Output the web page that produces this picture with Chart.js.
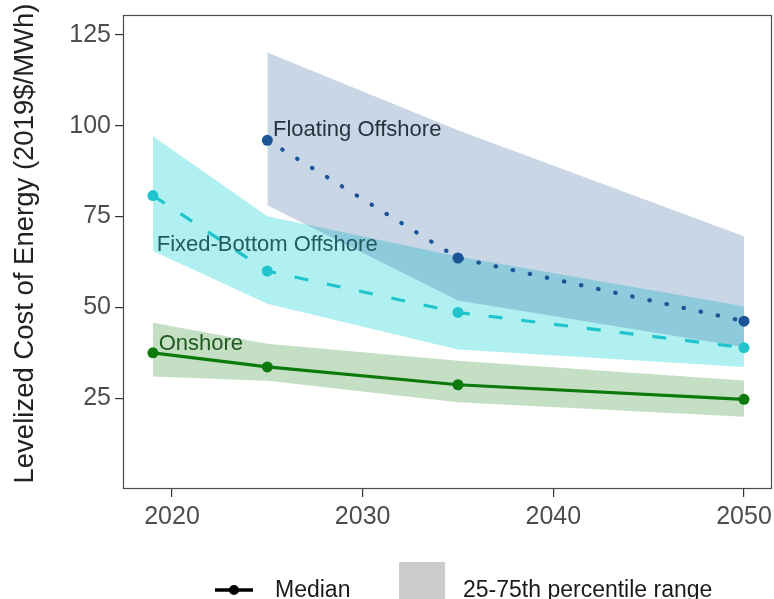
<!DOCTYPE html>
<html>
<head>
<meta charset="utf-8">
<script src="https://cdn.jsdelivr.net/npm/chart.js@4"></script>
<style>
  html, body { margin: 0; padding: 0; background: #ffffff; overflow: hidden; }
  #wrap { width: 774px; height: 599px; position: relative; }
</style>
</head>
<body>
<div id="wrap"><canvas id="c"></canvas></div>
<script>
// ---- data ----
const xTicks = [2020, 2030, 2040, 2050];
const yTicks = [25, 50, 75, 100, 125];

const onshoreYears  = [2019, 2025, 2035, 2050];
const onshoreMedian = [37.5, 33.6, 28.7, 24.7];
const onshoreP25    = [31.0, 29.8, 23.9, 19.9];
const onshoreP75    = [45.8, 40.0, 35.3, 29.9];

const fixedYears  = [2019, 2025, 2035, 2050];
const fixedMedian = [80.8, 60.0, 48.6, 38.9];
const fixedP25    = [65.5, 51.0, 38.4, 33.6];
const fixedP75    = [97.1, 75.1, 64.0, 50.3];

const floatYears  = [2025, 2035, 2050];
const floatMedian = [96.0, 63.6, 46.2];
const floatP25    = [78.1, 51.9, 39.0];
const floatP75    = [120.2, 98.8, 69.6];

const seriesNames = ['Onshore', 'Fixed-Bottom Offshore', 'Floating Offshore'];
const legendLabels = ['Median', '25-75th percentile range'];
const yTitle = 'Levelized Cost of Energy (2019$/MWh)';

// ---- styling ----
const FONT = '"Liberation Sans", Arial, Helvetica, sans-serif';
const C_ON = '#0b7a0b', C_FIX = '#1fc4cc', C_FLT = '#1c5597';
const B_ON = 'rgba(11,122,11,0.24)', B_FIX = 'rgba(0,206,209,0.31)', B_FLT = 'rgba(28,85,151,0.24)';

function pts(xs, ys) { return xs.map((x, i) => ({ x: x, y: ys[i] })); }

const medianStyle = (color, dash, width, cap) => ({
  borderColor: color, backgroundColor: color, borderWidth: width,
  borderDash: dash, borderCapStyle: cap, pointRadius: 5.5, pointHoverRadius: 5.5,
  pointBackgroundColor: color, pointBorderWidth: 0, fill: false, tension: 0
});
const bandStyle = (fill, bg) => ({
  borderColor: 'transparent', borderWidth: 0, pointRadius: 0, pointHoverRadius: 0,
  fill: fill, backgroundColor: bg, tension: 0
});

const datasets = [
  Object.assign({ label: seriesNames[0], data: pts(onshoreYears, onshoreMedian) }, medianStyle(C_ON, [], 3.2, 'butt')),
  Object.assign({ label: seriesNames[1], data: pts(fixedYears, fixedMedian) }, medianStyle(C_FIX, [14, 19], 3.2, 'butt')),
  Object.assign({ label: seriesNames[2], data: pts(floatYears, floatMedian) }, medianStyle(C_FLT, [0.5, 17], 4.2, 'round')),
  Object.assign({ label: 'flt25', data: pts(floatYears, floatP25) }, bandStyle(false, 'transparent')),
  Object.assign({ label: 'flt75', data: pts(floatYears, floatP75) }, bandStyle('-1', B_FLT)),
  Object.assign({ label: 'fix25', data: pts(fixedYears, fixedP25) }, bandStyle(false, 'transparent')),
  Object.assign({ label: 'fix75', data: pts(fixedYears, fixedP75) }, bandStyle('-1', B_FIX)),
  Object.assign({ label: 'on25', data: pts(onshoreYears, onshoreP25) }, bandStyle(false, 'transparent')),
  Object.assign({ label: 'on75', data: pts(onshoreYears, onshoreP75) }, bandStyle('-1', B_ON))
];

// label anchors (left / baseline in data units)
const seriesLabelPos = [
  { x: 2019.3, y: 38.2, color: '#1f5a1f' },
  { x: 2019.2, y: 65.4, color: '#1d5c5f' },
  { x: 2025.3, y: 97.1, color: '#28323e' }
];

const zeroPad = () => ({ left: 0, top: 0, right: 0, bottom: 0 });

const decor = {
  id: 'decor',
  afterDraw(chart) {
    const ctx = chart.ctx, a = chart.chartArea;
    const xs = chart.scales.x, ys = chart.scales.y;
    ctx.save();
    // panel border
    ctx.strokeStyle = '#4a4a4a';
    ctx.lineWidth = 1.2;
    ctx.strokeRect(a.left + 0.5, a.top + 0.5, a.right - a.left - 1, a.bottom - a.top - 1);

    // series labels
    ctx.font = '22px ' + FONT;
    ctx.textBaseline = 'alphabetic';
    ctx.textAlign = 'left';
    seriesNames.forEach((n, i) => {
      const p = seriesLabelPos[i];
      ctx.fillStyle = p.color;
      ctx.fillText(n, xs.getPixelForValue(p.x), ys.getPixelForValue(p.y));
    });

    // y title
    ctx.save();
    ctx.translate(33, 243.5);
    ctx.rotate(-Math.PI / 2);
    ctx.font = '27.5px ' + FONT;
    ctx.fillStyle = '#222222';
    ctx.textAlign = 'center';
    ctx.fillText(yTitle, 0, 0);
    ctx.restore();

    // legend
    const ly = 590;
    ctx.strokeStyle = '#000000';
    ctx.lineWidth = 3.6;
    ctx.beginPath(); ctx.moveTo(215, ly); ctx.lineTo(253, ly); ctx.stroke();
    ctx.fillStyle = '#000000';
    ctx.beginPath(); ctx.arc(234, ly, 5, 0, Math.PI * 2); ctx.fill();
    ctx.font = '23px ' + FONT;
    ctx.fillStyle = '#1a1a1a';
    ctx.fillText(legendLabels[0], 275, 597);
    ctx.fillStyle = '#cccccc';
    ctx.fillRect(399, 562, 46, 46);
    ctx.fillStyle = '#1a1a1a';
    ctx.fillText(legendLabels[1], 463, 597);
    ctx.restore();
  }
};

new Chart(document.getElementById('c'), {
  type: 'line',
  data: { datasets: datasets },
  options: {
    responsive: true,
    maintainAspectRatio: false,
    animation: false,
    events: [],
    layout: { autoPadding: false, padding: { top: 15, right: 2, left: 0, bottom: 0 } },
    plugins: {
      legend: { display: false },
      tooltip: { enabled: false },
      filler: { propagate: false, drawTime: 'beforeDatasetsDraw' }
    },
    scales: {
      x: {
        type: 'linear',
        min: 2017.43, max: 2051.47,
        afterBuildTicks(s) { s.ticks = xTicks.map(v => ({ value: v })); },
        afterFit(s) { s.height = 110; s.paddingLeft = 0; s.paddingRight = 0; s.paddingTop = 0; s.paddingBottom = 0; s.getPadding = zeroPad; },
        border: { display: false },
        grid: { display: true, drawOnChartArea: false, drawTicks: true, tickLength: 8, color: '#333333', lineWidth: 1.2 },
        ticks: { font: { family: FONT, size: 25 }, color: '#4d4d4d', padding: 5, maxRotation: 0, autoSkip: false,
                 callback: v => String(v) }
      },
      y: {
        type: 'linear',
        min: 0, max: 130.5,
        afterBuildTicks(s) { s.ticks = yTicks.map(v => ({ value: v })); },
        afterFit(s) { s.width = 123; s.paddingLeft = 0; s.paddingRight = 0; s.paddingTop = 0; s.paddingBottom = 0; s.getPadding = zeroPad; },
        border: { display: false },
        grid: { display: true, drawOnChartArea: false, drawTicks: true, tickLength: 8, color: '#333333', lineWidth: 1.2 },
        ticks: { font: { family: FONT, size: 25 }, color: '#4d4d4d', padding: 4, autoSkip: false,
                 callback: v => String(v) }
      }
    }
  },
  plugins: [decor]
});
</script>
</body>
</html>
